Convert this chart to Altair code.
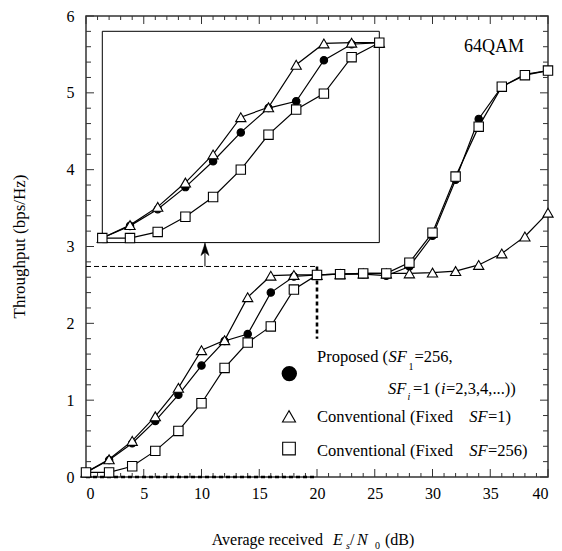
import altair as alt
import pandas as pd

# ---------------- data ----------------
snr = [0, 2, 4, 6, 8, 10, 12, 14, 16, 18, 20, 22, 24, 26, 28, 30, 32, 34, 36, 38, 40]
proposed = [0.06, 0.22, 0.44, 0.73, 1.07, 1.45, 1.77, 1.86, 2.40, 2.61, 2.63, 2.64, 2.64, 2.62,
            2.74, 3.14, 3.87, 4.66, 5.08, 5.24, 5.29]
conv_sf1 = [0.06, 0.23, 0.47, 0.79, 1.16, 1.65, 1.78, 2.34, 2.62, 2.63, 2.63, 2.64, 2.65, 2.65,
            2.65, 2.66, 2.68, 2.76, 2.91, 3.13, 3.44]
conv_sf256 = [0.06, 0.06, 0.14, 0.34, 0.60, 0.96, 1.42, 1.75, 1.96, 2.44, 2.63, 2.64, 2.65, 2.65,
              2.79, 3.18, 3.91, 4.56, 5.08, 5.23, 5.29]

x_major = [0, 5, 10, 15, 20, 25, 30, 35, 40]
x_minor = [v for v in range(0, 41) if v % 5 != 0]
y_major = [0, 1, 2, 3, 4, 5, 6]
y_minor = [round(i * 0.2, 1) for i in range(0, 31) if i % 5 != 0]

FONT = "Liberation Serif, Times New Roman, serif"
W, H = 462, 461

rows = []
for name, vals in [("sf1", conv_sf1), ("prop", proposed), ("sf256", conv_sf256)]:
    for s, v in zip(snr, vals):
        rows.append({"snr": s, "series": name, "thr": v})
df = pd.DataFrame(rows)
one = pd.DataFrame({"a": [0]})

# ---------------- scales ----------------
SXM = alt.Scale(domain=[0, 40], nice=False, zero=False)
SYM = alt.Scale(domain=[0, 6], nice=False, zero=False)
AXX = alt.Axis(values=x_major, ticks=False, domain=False, grid=False, title=None,
               labelFont=FONT, labelFontSize=16, labelColor="black", labelPadding=8, format="d")
AXY = alt.Axis(values=y_major, ticks=False, domain=False, grid=False, title=None,
               labelFont=FONT, labelFontSize=16, labelColor="black", labelPadding=12, format="d")

SXI = alt.Scale(domain=[0, 20], range=[16.3, 293.3], nice=False, zero=False)
SYI = alt.Scale(domain=[0, 2.78], range=[226.6, 15.3], nice=False, zero=False)

STYLE = {
    "sf1": dict(shape="triangle-up", fill="white", size=105),
    "prop": dict(shape="circle", fill="black", size=55),
    "sf256": dict(shape="square", fill="white", size=88),
}


def series_layers(base, xenc, yenc):
    layers = []
    for name in ["prop", "sf1", "sf256"]:
        b = base.transform_filter(alt.datum.series == name)
        layers.append(b.mark_line(color="black", strokeWidth=1.2).encode(x=xenc, y=yenc))
        st = STYLE[name]
        layers.append(b.mark_point(shape=st["shape"], filled=True, fill=st["fill"],
                                   stroke="black", strokeWidth=1.1, size=st["size"],
                                   opacity=1).encode(x=xenc, y=yenc))
    return layers


def txt(s, x, y, size=16, style="normal", align="left", baseline="alphabetic", angle=0):
    return alt.Chart(one).mark_text(text=s, font=FONT, fontSize=size, fontStyle=style,
                                    align=align, baseline=baseline, angle=angle,
                                    color="black").encode(x=alt.value(x), y=alt.value(y))


# ---------------- main plot ----------------
main_base = alt.Chart(df)
xm = alt.X("snr:Q", scale=SXM, axis=AXX)
ym = alt.Y("thr:Q", scale=SYM, axis=AXY)
main_series = series_layers(main_base, xm, ym)


def xticks(vals, length):
    d = alt.Chart(pd.DataFrame({"snr": vals}))
    xe = alt.X("snr:Q", scale=SXM, axis=AXX)
    return [
        d.mark_rule(color="#333", strokeWidth=1).encode(x=xe, y=alt.value(H), y2=alt.value(H - length)),
        d.mark_rule(color="#333", strokeWidth=1).encode(x=xe, y=alt.value(0), y2=alt.value(length)),
    ]


def yticks(vals, length):
    d = alt.Chart(pd.DataFrame({"thr": vals}))
    ye = alt.Y("thr:Q", scale=SYM, axis=AXY)
    return [
        d.mark_rule(color="#333", strokeWidth=1).encode(y=ye, x=alt.value(0), x2=alt.value(length)),
        d.mark_rule(color="#333", strokeWidth=1).encode(y=ye, x=alt.value(W), x2=alt.value(W - length)),
    ]


tick_layers = xticks(x_major, 8) + xticks(x_minor, 4) + yticks(y_major, 8) + yticks(y_minor, 5)

# dashed guides of the zoomed region
guide = pd.DataFrame({"x0": [0], "x1": [20], "ytop": [2.74], "ybot": [1.8], "yz": [0.0],
                      "xa": [10.3], "ya0": [2.74], "ya1": [3.05], "yh": [2.96]})
g = alt.Chart(guide)
guides = [
    g.mark_rule(color="black", strokeWidth=1, strokeDash=[5, 3]).encode(
        x=alt.X("x0:Q", scale=SXM, axis=AXX), x2="x1:Q", y=alt.Y("ytop:Q", scale=SYM, axis=AXY)),
    g.mark_rule(color="black", strokeWidth=2.6, strokeDash=[4, 3]).encode(
        x=alt.X("x1:Q", scale=SXM, axis=AXX), y=alt.Y("ytop:Q", scale=SYM, axis=AXY), y2="ybot:Q"),
    g.mark_rule(color="black", strokeWidth=2.6, strokeDash=[4, 3]).encode(
        x=alt.X("x0:Q", scale=SXM, axis=AXX), x2="x1:Q", y=alt.Y("yz:Q", scale=SYM, axis=AXY)),
    g.mark_rule(color="black", strokeWidth=1).encode(
        x=alt.X("xa:Q", scale=SXM, axis=AXX), y=alt.Y("ya0:Q", scale=SYM, axis=AXY), y2="ya1:Q"),
    g.mark_point(shape="M0,-1L0.67,1L0,0.45L-0.67,1Z", filled=True, fill="black", stroke="black",
                 strokeWidth=0.5, size=144, opacity=1).encode(
        x=alt.X("xa:Q", scale=SXM, axis=AXX), y=alt.Y("yh:Q", scale=SYM, axis=AXY)),
]

# inset frame
frame = alt.Chart(one).mark_rect(fill="white", stroke="black", strokeWidth=1).encode(
    x=alt.value(16.3), x2=alt.value(293.3), y=alt.value(15.3), y2=alt.value(226.6))

LS = 16.5  # legend font size

# texts
texts = [
    txt("64QAM", 378, 36, size=18),
    # y title
    txt("Throughput (bps/Hz)", -66, 230.5, size=17, align="center", baseline="middle", angle=270),
    # x title
    txt("Average received", 125.7, 529),
    txt("E", 247, 529, style="italic"),
    txt("s", 260, 532.5, size=10, style="italic"),
    txt("/", 264, 529),
    txt("N", 271, 529, style="italic"),
    txt("0", 289, 532.5, size=10),
    txt("(dB)", 299, 529),
    # legend
    txt("Proposed (", 231, 346, size=LS),
    txt("SF", 302.5, 346, size=LS, style="italic"),
    txt("1", 322.5, 353.5, size=10),
    txt("=256,", 328.5, 346, size=LS),
    txt("SF", 302, 377.6, size=LS, style="italic"),
    txt("i", 321.5, 384, size=10, style="italic"),
    txt("=1 (", 327, 377.6, size=LS),
    txt("i", 355, 377.6, size=LS, style="italic"),
    txt("=2,3,4,...))", 360, 377.6, size=LS),
    txt("Conventional (Fixed", 231, 406, size=LS),
    txt("SF", 383.3, 406, size=LS, style="italic"),
    txt("=1)", 402, 406, size=LS),
    txt("Conventional (Fixed", 231, 440.3, size=LS),
    txt("SF", 383.3, 440.3, size=LS, style="italic"),
    txt("=256)", 402, 440.3, size=LS),
]

legend_marks = [
    alt.Chart(one).mark_point(shape="circle", filled=True, fill="black", stroke="black",
                              size=180, opacity=1).encode(x=alt.value(203.3), y=alt.value(357.6)),
    alt.Chart(one).mark_point(shape="triangle-up", filled=True, fill="white", stroke="black",
                              strokeWidth=1.1, size=170, opacity=1).encode(x=alt.value(203), y=alt.value(400.3)),
    alt.Chart(one).mark_point(shape="square", filled=True, fill="white", stroke="black",
                              strokeWidth=1.1, size=160, opacity=1).encode(x=alt.value(203), y=alt.value(432.6)),
]

main_layer = alt.layer(frame, *tick_layers, *guides, *main_series, *legend_marks, *texts)

# ---------------- inset ----------------
inset_base = alt.Chart(df).transform_filter(alt.datum.snr <= 20)
xi = alt.X("snr:Q", scale=SXI, axis=None)
yi = alt.Y("thr:Q", scale=SYI, axis=None)
inset_layer = alt.layer(*series_layers(inset_base, xi, yi))

chart = alt.layer(main_layer, inset_layer).resolve_scale(
    x="independent", y="independent"
).properties(
    width=W, height=H,
    autosize=alt.AutoSizeParams(type="none"),
    padding={"left": 86, "top": 16, "right": 14, "bottom": 74},
    background="white",
).configure_view(stroke="#333", strokeWidth=1.5)

chart.save("out.html", embed_options={"renderer": "svg", "actions": False})
